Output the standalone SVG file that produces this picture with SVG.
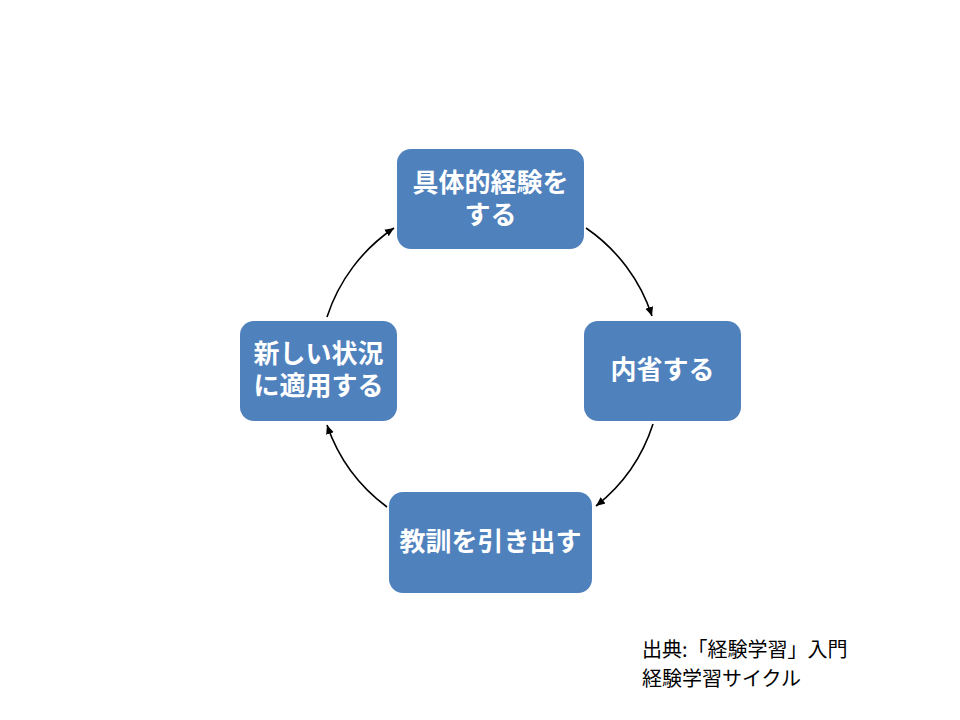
<svg xmlns="http://www.w3.org/2000/svg" width="960" height="720" viewBox="0 0 960 720">
<defs>
<marker id="ah" markerWidth="10" markerHeight="10" refX="9" refY="5" orient="auto" markerUnits="userSpaceOnUse">
<path d="M0,1 L9,5 L0,9 Z" fill="#000"/>
</marker>
<style>
.box{fill:#4F81BD;}
.lbl{fill:#fff;font-family:"Liberation Sans","Noto Sans CJK JP",sans-serif;font-weight:bold;font-size:26px;text-anchor:middle;}
.cap{fill:#000;font-family:"Noto Sans CJK JP",sans-serif;font-size:20px;}
.arc{fill:none;stroke:#000;stroke-width:1.6;marker-end:url(#ah);}
</style>
</defs>
<rect width="960" height="720" fill="#fff"/>
<g id="connectors">
<path class="arc" d="M586,228 A171,171 0 0 1 652,316"/>
<path class="arc" d="M653,424 A171,171 0 0 1 596,506"/>
<path class="arc" d="M387,507 A171,171 0 0 1 327,425"/>
<path class="arc" d="M327,317 A171,171 0 0 1 394,228"/>
</g>
<g id="node-top">
<rect class="box" x="397" y="149" width="187" height="100" rx="14"/>
<text class="lbl" x="490.5" y="192">具体的経験を</text>
<text class="lbl" x="490.5" y="224">する</text>
</g>
<g id="node-right">
<rect class="box" x="584" y="321" width="157" height="100" rx="14"/>
<text class="lbl" x="662.5" y="379">内省する</text>
</g>
<g id="node-bottom">
<rect class="box" x="389" y="492" width="203" height="101" rx="14"/>
<text class="lbl" x="490.5" y="551">教訓を引き出す</text>
</g>
<g id="node-left">
<rect class="box" x="240" y="321" width="157" height="100" rx="14"/>
<text class="lbl" x="318.5" y="363">新しい状況</text>
<text class="lbl" x="318.5" y="395">に適用する</text>
</g>
<g id="caption">
<text class="cap" x="642" y="657">出典:「経験学習」入門</text>
<text class="cap" x="642" y="686">経験学習サイクル</text>
</g>
</svg>
